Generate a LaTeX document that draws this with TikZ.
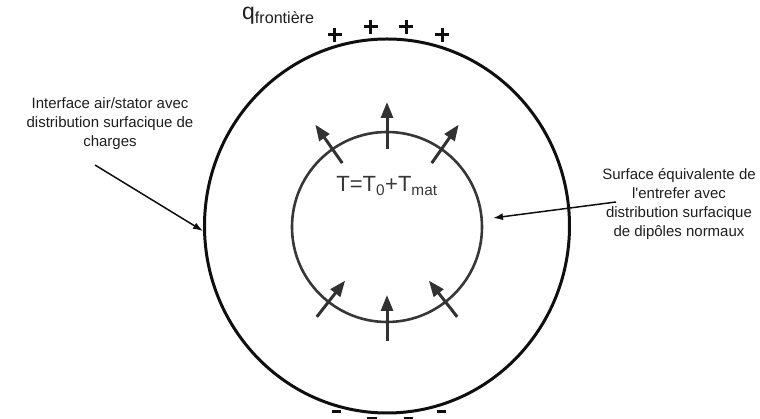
\documentclass[tikz,border=0pt]{standalone}
\usepackage{fontspec}
\setmainfont{Liberation Sans}
\usetikzlibrary{arrows.meta,positioning,shapes.geometric}
\definecolor{ringInk}{RGB}{15,15,15}
\definecolor{gapInk}{RGB}{55,55,55}
\definecolor{dipInk}{RGB}{50,50,50}
\definecolor{labelInk}{RGB}{30,30,30}
\tikzset{
  ring/.style={draw=ringInk, line width=3pt, ellipse, inner sep=0pt, minimum width=365pt, minimum height=374pt},
  gapring/.style={draw=gapInk, line width=2.6pt, circle, inner sep=0pt, minimum size=190pt},
  note/.style={align=center, text=labelInk, font=\fontsize{15}{19}\selectfont, inner sep=1pt},
  dipole/.style={-{Triangle[length=16pt,width=12pt]}, line width=3pt, draw=dipInk},
  pointer/.style={-{Latex[length=10pt,width=7pt]}, line width=1.5pt, draw=ringInk},
  chg/.style={line width=3pt, draw=ringInk}
}
\begin{document}
\begin{tikzpicture}[x=1pt,y=1pt]
        \useasboundingbox (-387,-193) rectangle (373,226);
        \node[ring] (stator) at (0,0) {};
        \node[gapring] (gap) at (0,-1) {};
        % dipoles normaux
        \foreach \a in {55,90,125}
          \draw[dipole] ([shift={(\a:78)}]gap.center) -- ([shift={(\a:125)}]gap.center);
        \foreach \a in {232,270,308}
          \draw[dipole] ([shift={(\a:114)}]gap.center) -- ([shift={(\a:68)}]gap.center);
        % charges
        \foreach \x/\y in {-52/191,-16/199,19/199,55/191}
          \draw[chg] (\x-7,\y) -- (\x+7,\y) (\x,\y-7) -- (\x,\y+7);
        \foreach \x/\y in {-50/-186,54/-186,-15/-193,21/-193}
          \draw[chg] (\x-4.5,\y) -- (\x+4.5,\y);
        \node[anchor=base west, inner sep=0pt, text=labelInk, font=\fontsize{23}{26}\selectfont] (qf) at (-145,206) {q\textsubscript{frontière}};
        \node[anchor=base, inner sep=0pt, text=gapInk, font=\fontsize{22}{26}\selectfont] (tt) at (0,34) {T=T\textsubscript{0}+T\textsubscript{mat}};
        \node[note] (lblL) at (-277,102) {Interface air/stator avec\\distribution surfacique de\\charges};
        \node[note] (lblR) at (292,22) {Surface équivalente de\\l\textquotesingle entrefer avec\\distribution surfacique\\de dipôles normaux};
        \coordinate (tailL) at (-292,61);
        \coordinate (tipL) at (-184,-5);
        \coordinate (tailR) at (229,24);
        \coordinate (tipR) at (106,8);
        \draw[pointer] (tailL) -- (tipL);
        \draw[pointer] (tailR) -- (tipR);
      \end{tikzpicture}
\end{document}
